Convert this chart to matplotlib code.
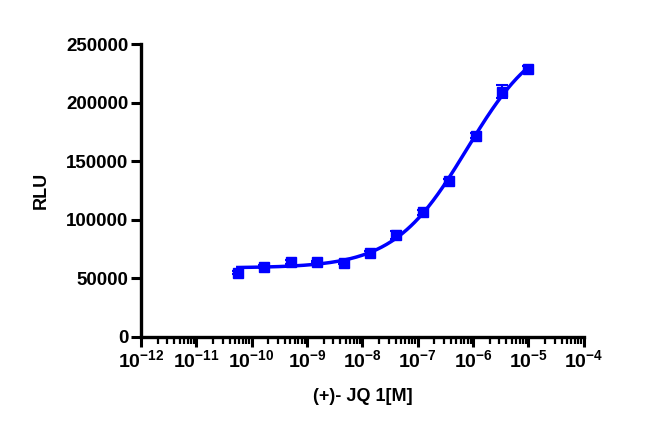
import numpy as np
import matplotlib
matplotlib.use("Agg")
import matplotlib.pyplot as plt
from matplotlib.ticker import LogLocator, FixedLocator, NullFormatter

plt.rcParams['font.family'] = ['Liberation Sans', 'DejaVu Sans']
plt.rcParams['font.weight'] = 'bold'
plt.rcParams['mathtext.fontset'] = 'custom'
plt.rcParams['mathtext.rm'] = 'Liberation Sans:bold'
plt.rcParams['mathtext.default'] = 'rm'

# Data (3-fold dilution series of (+)-JQ1, molar)
conc = [5.6e-11, 1.7e-10, 5.1e-10, 1.52e-9, 4.57e-9, 1.37e-8,
        4.1e-8, 1.23e-7, 3.7e-7, 1.11e-6, 3.33e-6, 1.0e-5]
rlu = [55000, 60000, 64000, 64000, 63500, 71500,
       87000, 106500, 133000, 172000, 209500, 228500]
err = [1500, 1500, 1500, 1200, 1500, 1500,
       3500, 2000, 2000, 2500, 5500, 2500]

yticks = [0, 50000, 100000, 150000, 200000, 250000]
xdecades = list(range(-12, -3))
xlabel = "(+)- JQ 1[M]"
ylabel = "RLU"

# 4-parameter logistic fit (linear in bottom/top, grid over EC50/hill)
lx = np.log10(np.array(conc))
y = np.array(rlu, dtype=float)
best = None
for lec in np.linspace(-8, -4, 401):
    for h in np.linspace(0.3, 2.0, 171):
        f = 1.0 / (1.0 + 10 ** ((lec - lx) * h))
        A = np.column_stack([1 - f, f])
        coef, *_ = np.linalg.lstsq(A, y, rcond=None)
        r = np.sum((A @ coef - y) ** 2)
        if best is None or r < best[0]:
            best = (r, lec, h, coef)
_, lec, h, (bot, top) = best
xc = np.logspace(lx.min(), lx.max(), 300)
yc = bot + (top - bot) / (1 + 10 ** ((lec - np.log10(xc)) * h))

fig = plt.figure(figsize=(6.5, 4.29), dpi=100)
ax = fig.add_axes([0.217, 0.2145, 0.681, 0.6825])
blue = '#0000FF'
ax.plot(xc, yc, color=blue, lw=2.5, zorder=3)
ax.errorbar(conc, rlu, yerr=err, fmt='s', color=blue, ms=7, capsize=4,
            elinewidth=1.5, capthick=1.5, zorder=4)

ax.set_xscale('log')
ax.set_xlim(1e-12, 1e-4)
ax.set_ylim(0, 250000)
ax.set_yticks(yticks)
ax.set_yticklabels([str(v) for v in yticks])
ax.xaxis.set_major_locator(FixedLocator([10.0 ** d for d in xdecades]))
ax.set_xticklabels([r'$\mathregular{10^{%d}}$' % d for d in xdecades])
ax.xaxis.set_minor_locator(LogLocator(base=10, subs=np.arange(2, 10), numticks=20))
ax.xaxis.set_minor_formatter(NullFormatter())

for s in ['top', 'right']:
    ax.spines[s].set_visible(False)
for s in ['left', 'bottom']:
    ax.spines[s].set_linewidth(2.4)
ax.tick_params(axis='y', which='major', length=7, width=2.2,
               labelsize=13.5, pad=2)
ax.tick_params(axis='x', which='major', length=7, width=2.2,
               labelsize=14, pad=2)
ax.tick_params(axis='x', which='minor', length=5, width=1.6)
for lbl in ax.get_xticklabels() + ax.get_yticklabels():
    lbl.set_fontweight('bold')

ax.set_xlabel(xlabel, fontsize=13, fontweight='bold', labelpad=12)
ax.set_ylabel(ylabel, fontsize=13, fontweight='bold', labelpad=12)

fig.savefig('out.png', dpi=100)
